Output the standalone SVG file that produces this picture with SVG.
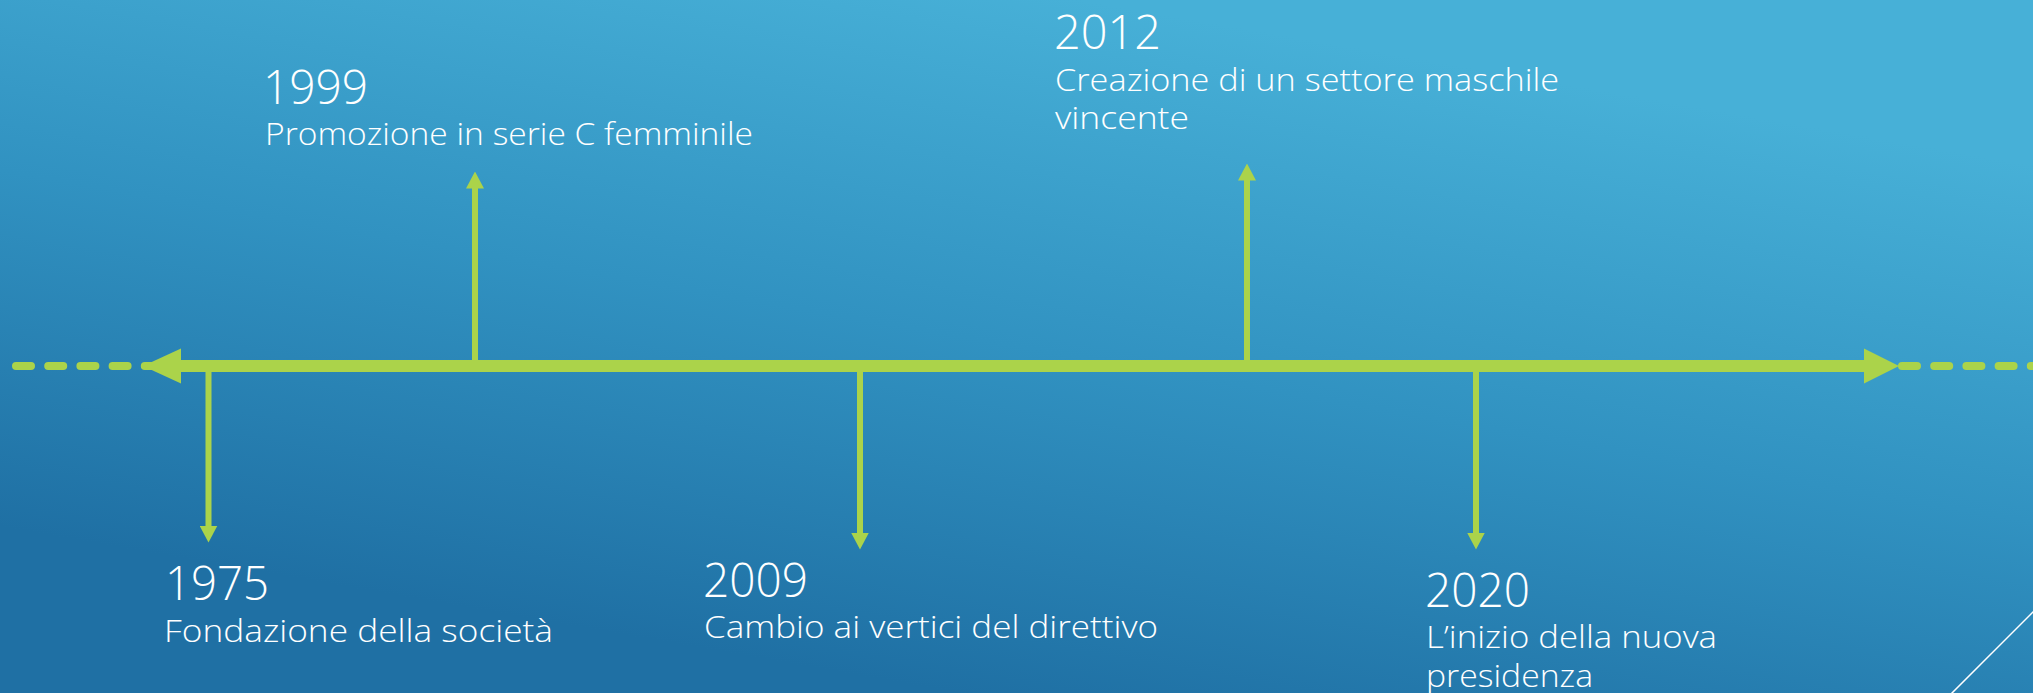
<svg xmlns="http://www.w3.org/2000/svg" width="2033" height="693" viewBox="0 0 2033 693">
  <defs>
    <linearGradient id="bg" gradientUnits="userSpaceOnUse" x1="1080" y1="0" x2="960" y2="693">
      <stop offset="0" stop-color="#47b0d7"/>
      <stop offset="0.5" stop-color="#3192c1"/>
      <stop offset="1" stop-color="#1f70a4"/>
    </linearGradient>
    <marker id="head" viewBox="0 0 17 18" refX="0.5" refY="9" markerWidth="17" markerHeight="18" markerUnits="userSpaceOnUse" orient="auto">
      <path d="M0,0 L17,9 L0,18 Z" fill="#abd34a"/>
    </marker>
    <style>
      .year { font-family: "Open Sans", "Liberation Sans", sans-serif; font-weight: 300; font-size: 48px; fill: #ffffff; }
      .desc { font-family: "Open Sans", "Liberation Sans", sans-serif; font-weight: 300; font-size: 32px; fill: #ffffff; }
      .tick { stroke: #abd34a; stroke-width: 6; fill: none; marker-end: url(#head); }
      .dash { stroke: #abd34a; stroke-width: 8; stroke-linecap: round; stroke-dasharray: 15 17.2; fill: none; }
    </style>
  </defs>
  <rect x="0" y="0" width="2033" height="693" fill="url(#bg)"/>
  <line x1="1951" y1="694" x2="2034" y2="611" stroke="#ffffff" stroke-width="1.5"/>

  <g id="connectors">
    <line class="dash" x1="16" y1="366" x2="160" y2="366"/>
    <line class="dash" x1="1902" y1="366" x2="2040" y2="366"/>
    <line x1="178" y1="366" x2="1866" y2="366" stroke="#abd34a" stroke-width="12"/>
    <polygon points="143,366 181,348.5 181,383.5" fill="#abd34a"/>
    <polygon points="1899,366 1864,348.5 1864,383.5" fill="#abd34a"/>
    <line class="tick" x1="208.5" y1="366" x2="208.5" y2="526"/>
    <line class="tick" x1="475" y1="366" x2="475" y2="188"/>
    <line class="tick" x1="860" y1="366" x2="860" y2="533"/>
    <line class="tick" x1="1247" y1="366" x2="1247" y2="180"/>
    <line class="tick" x1="1476" y1="366" x2="1476" y2="533"/>
  </g>

  <g id="node-1975">
    <text class="year" x="165" y="600" textLength="104" lengthAdjust="spacingAndGlyphs">1975</text>
    <text class="desc" x="164" y="642" textLength="389" lengthAdjust="spacingAndGlyphs">Fondazione della società</text>
  </g>
  <g id="node-1999">
    <text class="year" x="263" y="104" textLength="105" lengthAdjust="spacingAndGlyphs">1999</text>
    <text class="desc" x="265" y="145" textLength="488" lengthAdjust="spacingAndGlyphs">Promozione in serie C femminile</text>
  </g>
  <g id="node-2009">
    <text class="year" x="703" y="597" textLength="105" lengthAdjust="spacingAndGlyphs">2009</text>
    <text class="desc" x="704" y="638" textLength="454" lengthAdjust="spacingAndGlyphs">Cambio ai vertici del direttivo</text>
  </g>
  <g id="node-2012">
    <text class="year" x="1054" y="49" textLength="107" lengthAdjust="spacingAndGlyphs">2012</text>
    <text class="desc" x="1055" y="91" textLength="504" lengthAdjust="spacingAndGlyphs">Creazione di un settore maschile</text>
    <text class="desc" x="1055" y="129" textLength="134" lengthAdjust="spacingAndGlyphs">vincente</text>
  </g>
  <g id="node-2020">
    <text class="year" x="1425" y="607" textLength="105" lengthAdjust="spacingAndGlyphs">2020</text>
    <text class="desc" x="1426" y="648" textLength="291" lengthAdjust="spacingAndGlyphs">L’inizio della nuova</text>
    <text class="desc" x="1426" y="687" textLength="167" lengthAdjust="spacingAndGlyphs">presidenza</text>
  </g>
</svg>
